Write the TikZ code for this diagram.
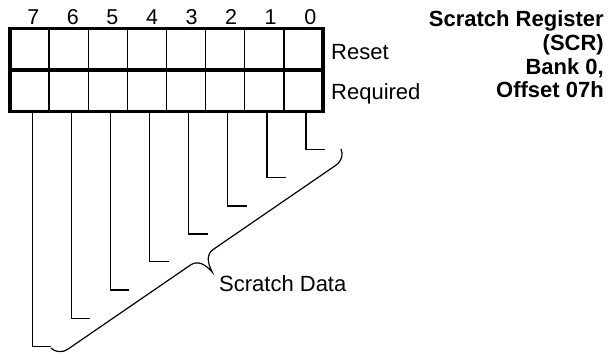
\documentclass[tikz,border=0pt]{standalone}
\usepackage{fontspec}
\setmainfont{Liberation Sans}
\begin{document}
\begin{tikzpicture}[x=1pt,y=-1pt,
  cell/.style={draw, line width=1.3pt, minimum width=39.125pt, minimum height=41.5pt, inner sep=0pt, outer sep=0pt},
  lbl/.style={font=\fontsize{22}{26}\selectfont, inner sep=0pt},
  bitno/.style={font=\fontsize{21.5}{26}\selectfont, inner sep=0pt, anchor=base},
  title/.style={font=\bfseries\fontsize{22}{26}\selectfont, inner sep=0pt, anchor=base east},
  leader/.style={line width=1.2pt},
  frame/.style={line width=3.6pt},
]
\useasboundingbox (0,0) rectangle (614,354);
% register cells and bit numbers
\foreach \k [count=\i from 0] in {7,6,5,4,3,2,1,0} {
  \node[cell] (c\k) at ({10+39.125*(\i+0.5)},49.25) {};
  \node[cell] (r\k) at ({10+39.125*(\i+0.5)},90.75) {};
  \node[bitno] (n\k) at ({33.3+39.57*\i},24) {\k};
}
\draw[frame] (c7.north west) rectangle (r0.south east);
\draw[line width=3.3pt] (c7.south west) -- (c0.south east);
% row labels
\node[lbl, anchor=base west] (reset) at (331,59.3) {Reset};
\node[lbl, anchor=base west] (required) at (331,99.3) {Required};
% title
\node[title] (t1) at (604,26.7) {Scratch Register};
\node[title] (t2) at (604,50.3) {(SCR)};
\node[title] (t3) at (604,74.3) {Bank 0,};
\node[title] (t4) at (604,97.7) {Offset 07h};
% leader lines
\foreach \k/\y in {7/346.7,6/318.3,5/290,4/261.7,3/234,2/206,1/177.7,0/149.3} {
  \path (r\k.south) ++(21.6,0) coordinate (tmp\k);
  \coordinate (e\k) at (tmp\k |- 0,\y);
  \draw[leader] ([xshift=2.6pt]r\k.south) |- (e\k);
}
% brace
\coordinate (A) at (341,149);
\coordinate (B) at (51,348);
\begin{scope}[shift={(A)}, rotate=214.46, x=1pt, y=1pt]
  \draw[leader] (0,0) .. controls (1,5) and (5,10.5) .. (14,10.5)
    -- (162,10.5) .. controls (170,10.5) and (174.5,17) .. (175.85,28.7)
    .. controls (177.2,17) and (181.7,10.5) .. (189.7,10.5)
    -- (337.7,10.5) .. controls (346.7,10.5) and (350.7,5) .. (351.7,0);
\end{scope}
\node[lbl, anchor=base west] (sdata) at (219,291.7) {Scratch Data};
\end{tikzpicture}
\end{document}
